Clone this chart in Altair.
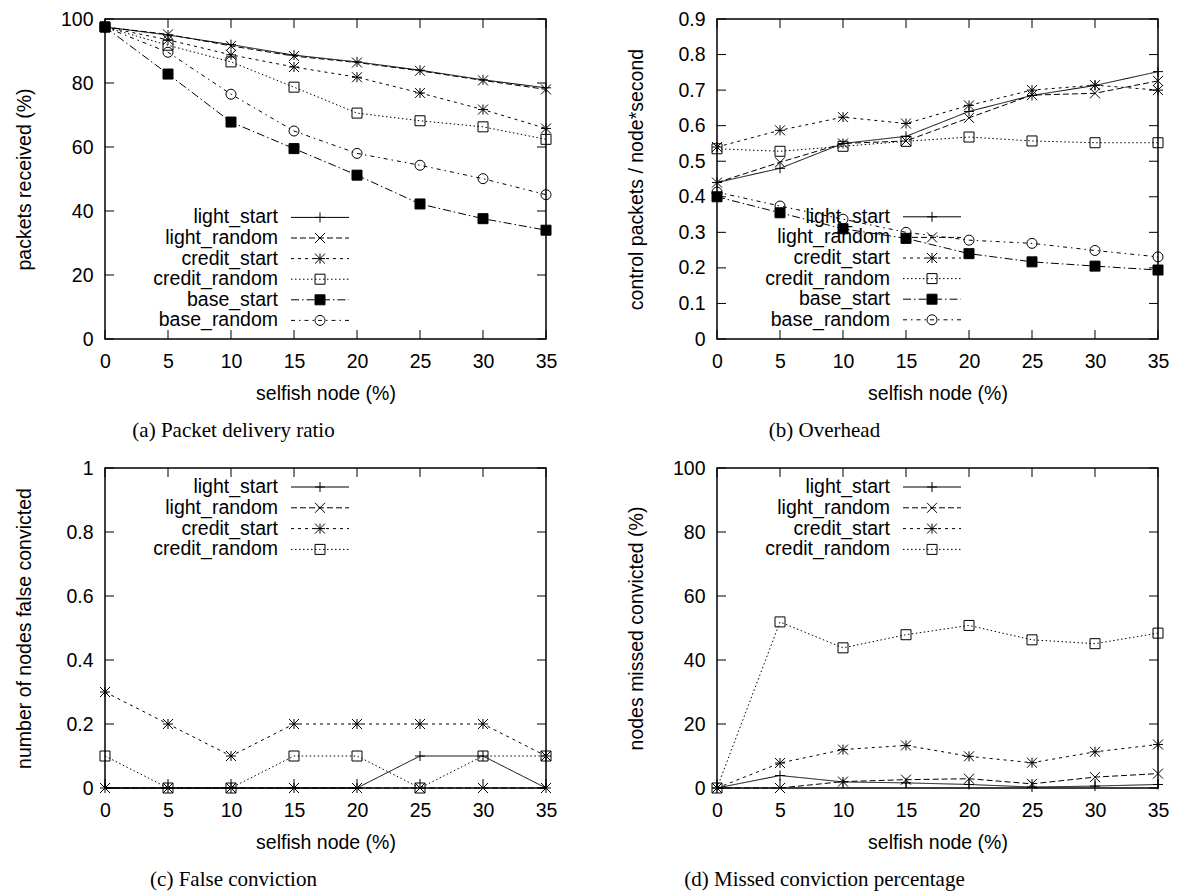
import altair as alt
import pandas as pd

# ---------------- data ----------------
x_vals = [0, 5, 10, 15, 20, 25, 30, 35]
series6 = ["light_start", "light_random", "credit_start", "credit_random", "base_start", "base_random"]
series4 = ["light_start", "light_random", "credit_start", "credit_random"]

# (a) packet delivery ratio (%)
a_light_start = [97.5, 95.0, 92.0, 88.7, 86.6, 84.0, 81.0, 78.5]
a_light_random = [97.5, 95.2, 91.6, 88.4, 86.4, 83.8, 80.8, 78.0]
a_credit_start = [97.5, 93.5, 88.8, 85.0, 81.8, 76.9, 71.7, 65.8]
a_credit_random = [97.5, 91.8, 86.6, 78.7, 70.6, 68.2, 66.3, 62.4]
a_base_start = [97.5, 82.8, 67.8, 59.5, 51.2, 42.2, 37.6, 34.0]
a_base_random = [97.5, 89.6, 76.5, 65.0, 58.0, 54.3, 50.1, 45.1]

# (b) overhead
b_light_start = [0.44, 0.48, 0.55, 0.57, 0.64, 0.685, 0.713, 0.752]
b_light_random = [0.44, 0.497, 0.55, 0.557, 0.622, 0.686, 0.691, 0.726]
b_credit_start = [0.54, 0.587, 0.624, 0.606, 0.657, 0.70, 0.714, 0.70]
b_credit_random = [0.535, 0.528, 0.542, 0.556, 0.568, 0.557, 0.552, 0.552]
b_base_start = [0.40, 0.355, 0.31, 0.283, 0.240, 0.217, 0.205, 0.194]
b_base_random = [0.413, 0.374, 0.337, 0.300, 0.278, 0.269, 0.249, 0.231]

# (c) false conviction
c_light_start = [0, 0, 0, 0, 0, 0.1, 0.1, 0]
c_light_random = [0, 0, 0, 0, 0, 0, 0, 0]
c_credit_start = [0.3, 0.2, 0.1, 0.2, 0.2, 0.2, 0.2, 0.1]
c_credit_random = [0.1, 0, 0, 0.1, 0.1, 0, 0.1, 0.1]

# (d) missed conviction percentage
d_light_start = [0, 3.9, 1.9, 1.6, 1.1, 0.3, 0.6, 1.1]
d_light_random = [0, 0, 2.0, 2.6, 2.9, 1.3, 3.4, 4.5]
d_credit_start = [0, 7.8, 12.0, 13.3, 9.9, 7.9, 11.3, 13.6]
d_credit_random = [0, 51.9, 43.8, 47.9, 50.8, 46.3, 45.1, 48.4]

# ---------------- styles ----------------
W, H = 441, 320
FONT = "Liberation Sans"
SERIF = "Liberation Serif"
FS = 19.5

PLUS = "M-1,0L1,0M0,-1L0,1"
CROSS = "M-1,-1L1,1M-1,1L1,-1"
STAR = PLUS + CROSS
shape_map = {
    "light_start": PLUS,
    "light_random": CROSS,
    "credit_start": STAR,
    "credit_random": "square",
    "base_start": "square",
    "base_random": "circle",
}
dash_map = {
    "light_start": [1, 0],
    "light_random": [6, 3],
    "credit_start": [3, 4],
    "credit_random": [1.5, 2.5],
    "base_start": [8, 3, 1.5, 3],
    "base_random": [4, 4, 1.5, 4],
}


def make_df(series, arrays):
    rows = []
    for s, arr in zip(series, arrays):
        for xv, yv in zip(x_vals, arr):
            rows.append({"x": xv, "y": yv, "series": s})
    return pd.DataFrame(rows)


def panel(series, arrays, ymax, yticks, ytitle, caption, cap_x, leg_y0, leg_step):
    df = make_df(series, arrays)
    xsc = alt.Scale(domain=[0, 35], nice=False, zero=False)
    ysc = alt.Scale(domain=[0, ymax], nice=False, zero=False)

    xaxis = alt.Axis(values=x_vals, title="selfish node (%)", ticks=False, domain=False, grid=False,
                     labelPadding=13, labelFontSize=FS, labelFont=FONT, labelColor="black",
                     labelFlush=False, labelOverlap=False,
                     titleFont=FONT, titleFontSize=FS, titleFontWeight="normal", titleColor="black",
                     titleX=W / 2, titleY=54, titleBaseline="middle", titleAlign="center")
    yaxis = alt.Axis(values=yticks, format="~r", title=ytitle, ticks=False, domain=False, grid=False,
                     labelPadding=12, labelFontSize=FS, labelFont=FONT, labelColor="black",
                     labelFlush=False, labelOverlap=False,
                     titleFont=FONT, titleFontSize=FS, titleFontWeight="normal", titleColor="black",
                     titleX=-81, titleY=H / 2, titleBaseline="middle", titleAlign="center", titleAngle=270)

    dash_scale = alt.Scale(domain=series, range=[dash_map[s] for s in series])
    shape_scale = alt.Scale(domain=series, range=[shape_map[s] for s in series])

    one = pd.DataFrame({"k": [0]})

    lines = alt.Chart(df).mark_line(color="black", strokeWidth=1).encode(
        x=alt.X("x:Q", scale=xsc, axis=xaxis),
        y=alt.Y("y:Q", scale=ysc, axis=yaxis),
        strokeDash=alt.StrokeDash("series:N", scale=dash_scale, legend=None),
    )

    layers = [lines]
    # legend
    for i, s in enumerate(series):
        ly = leg_y0 + i * leg_step
        layers.append(alt.Chart(one).mark_text(align="right", baseline="middle", font=FONT, fontSize=FS,
                                               color="black").encode(
            x=alt.value(173), y=alt.value(ly), text=alt.value(s)))
        layers.append(alt.Chart(one).mark_rule(stroke="black", strokeWidth=1, strokeDash=dash_map[s]).encode(
            x=alt.value(186), x2=alt.value(244), y=alt.value(ly)))
        layers.append(alt.Chart(one).mark_point(shape=shape_map[s], size=100, filled=True,
                                                fill="black" if s == "base_start" else "transparent",
                                                stroke="black", strokeWidth=1, opacity=1).encode(
            x=alt.value(215), y=alt.value(ly)))

    points = alt.Chart(df).mark_point(filled=True, size=100, stroke="black", strokeWidth=1, opacity=1).encode(
        x=alt.X("x:Q", scale=xsc, axis=xaxis),
        y=alt.Y("y:Q", scale=ysc, axis=yaxis),
        shape=alt.Shape("series:N", scale=shape_scale, legend=None),
        fill=alt.condition("datum.series == 'base_start'", alt.value("black"), alt.value("transparent")),
    )

    ytdf = pd.DataFrame({"y": yticks})
    xtdf = pd.DataFrame({"x": x_vals})
    tick_l = alt.Chart(ytdf).mark_rule(color="black", strokeWidth=1).encode(
        y=alt.Y("y:Q", scale=ysc, axis=yaxis), x=alt.value(0), x2=alt.value(9))
    tick_r = alt.Chart(ytdf).mark_rule(color="black", strokeWidth=1).encode(
        y=alt.Y("y:Q", scale=ysc, axis=yaxis), x=alt.value(W - 9), x2=alt.value(W))
    tick_b = alt.Chart(xtdf).mark_rule(color="black", strokeWidth=1).encode(
        x=alt.X("x:Q", scale=xsc, axis=xaxis), y=alt.value(H - 9), y2=alt.value(H))
    tick_t = alt.Chart(xtdf).mark_rule(color="black", strokeWidth=1).encode(
        x=alt.X("x:Q", scale=xsc, axis=xaxis), y=alt.value(0), y2=alt.value(9))

    cap = alt.Chart(one).mark_text(align="center", baseline="middle", font=SERIF, fontSize=21,
                                   color="black").encode(
        x=alt.value(cap_x), y=alt.value(412), text=alt.value(caption))

    layers += [tick_l, tick_r, tick_b, tick_t, points, cap]
    return alt.layer(*layers).properties(width=W, height=H)


pa = panel(series6, [a_light_start, a_light_random, a_credit_start, a_credit_random, a_base_start, a_base_random],
           100, [0, 20, 40, 60, 80, 100], "packets received (%)", "(a) Packet delivery ratio", 128.5, 198.4, 20.6)
pb = panel(series6, [b_light_start, b_light_random, b_credit_start, b_credit_random, b_base_start, b_base_random],
           0.9, [0, 0.1, 0.2, 0.3, 0.4, 0.5, 0.6, 0.7, 0.8, 0.9], "control packets / node*second",
           "(b) Overhead", 107.5, 197.8, 20.6)
pc = panel(series4, [c_light_start, c_light_random, c_credit_start, c_credit_random],
           1, [0, 0.2, 0.4, 0.6, 0.8, 1], "number of nodes false convicted", "(c) False conviction",
           128.5, 19, 20.8)
pd_ = panel(series4, [d_light_start, d_light_random, d_credit_start, d_credit_random],
            100, [0, 20, 40, 60, 80, 100], "nodes missed convicted (%)", "(d) Missed conviction percentage",
            107.5, 19, 20.8)

chart = alt.concat(pa, pb, pc, pd_, columns=2, spacing={"row": 129, "column": 171}, bounds="flush").properties(
    padding={"left": 5, "top": 0, "right": 5, "bottom": 2}
).configure(
    font=FONT, background="white",
    view=alt.ViewConfig(stroke="black", strokeWidth=1.5),
)

chart.save("out.html", embed_options={"renderer": "svg", "actions": False})
